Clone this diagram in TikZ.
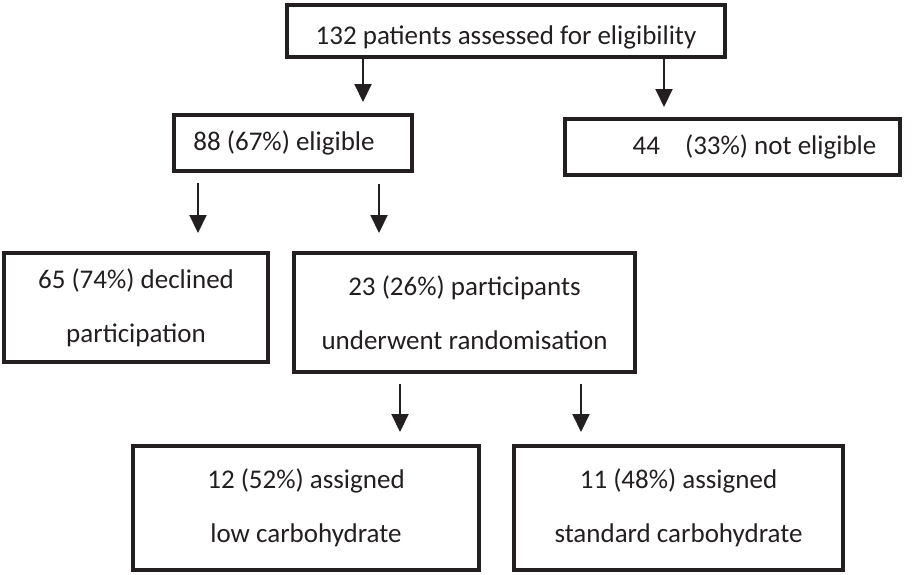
\documentclass[tikz,border=0pt]{standalone}
\usepackage{fontspec}
\setmainfont{Carlito}
\usepackage{tikz}
\usetikzlibrary{arrows.meta}
\definecolor{ink}{HTML}{231F20}

\begin{document}
\begin{tikzpicture}[x=1pt,y=-1pt,
  box/.style={draw=ink, line width=4pt, rectangle, inner sep=0pt, align=center,
    text=ink, font=\fontsize{27}{54}\selectfont},
  arr/.style={draw=ink, line width=2pt, -{Triangle[width=17pt,length=18pt]}}]
\useasboundingbox (0,0) rectangle (912,574);
% boxes
\node [box, minimum width=438pt, minimum height=52pt, text height=27pt, text depth=0pt] (assessed) at (506,31) {132 patients assessed for eligibility};
\node [box, minimum width=238pt, minimum height=56pt] (eligible) at (293,143) {88 (67\%) eligible\hspace*{18pt}};
\node [box, minimum width=335pt, minimum height=56pt] (noteligible) at (732.5,147) {\hspace*{44pt}44\hspace{19pt} (33\%) not eligible};
\node [box, minimum width=264pt, minimum height=109pt] (declined) at (136,307.5) {65 (74\%) declined\\participation};
\node [box, minimum width=341pt, minimum height=119pt] (random) at (464.5,312.5) {23 (26\%) participants\\underwent randomisation};
\node [box, minimum width=346pt, minimum height=124pt] (lowcarb) at (306,508) {12 (52\%) assigned\\low carbohydrate};
\node [box, minimum width=329pt, minimum height=124pt] (stdcarb) at (678.5,508) {11 (48\%) assigned\\standard carbohydrate};
% arrow tips
\coordinate (t1) at (363,102);
\coordinate (t2) at (664,107);
\coordinate (t3) at (198,233);
\coordinate (t4) at (379,233);
\coordinate (t5) at (400,432);
\coordinate (t6) at (581,432);
\draw [arr] (assessed.south -| t1) -- (t1);
\draw [arr] (assessed.south -| t2) -- (t2);
\draw [arr] ([yshift=-10pt]eligible.south -| t3) -- (t3);
\draw [arr] ([yshift=-11pt]eligible.south -| t4) -- (t4);
\draw [arr] ([yshift=-10pt]random.south -| t5) -- (t5);
\draw [arr] ([yshift=-10pt]random.south -| t6) -- (t6);
\end{tikzpicture}
\end{document}
